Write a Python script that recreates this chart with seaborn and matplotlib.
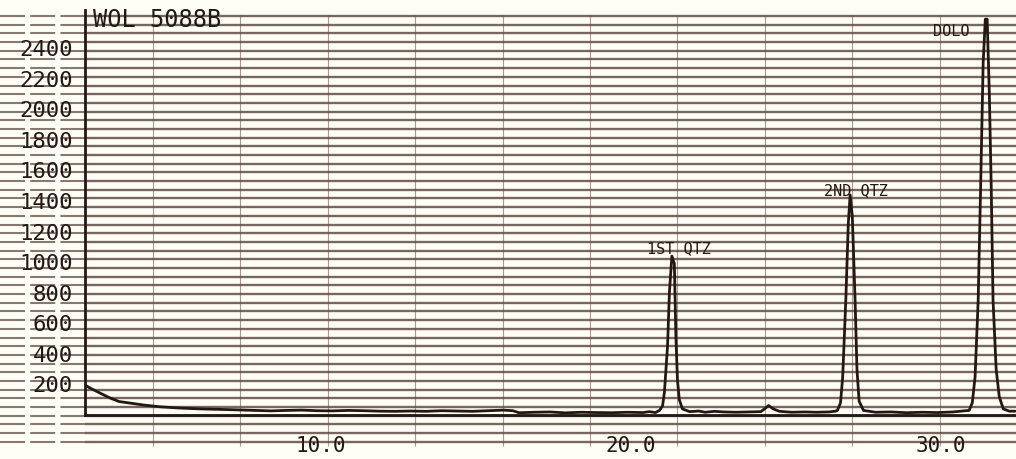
import numpy as np
import pandas as pd
import matplotlib
matplotlib.use("Agg")
import matplotlib.pyplot as plt
from matplotlib.transforms import ScaledTranslation
import seaborn as sns

# diffractogram trace (2-theta degrees, counts)
two_theta = [2.0, 2.15, 2.5, 2.8, 3.1, 3.45, 3.9, 4.4, 5.0, 5.7, 6.5, 7.0, 7.5, 8.0, 8.5,
             9.0, 9.5, 10.0, 10.5, 11.0, 11.5, 12.0, 12.5, 13.0, 13.5, 14.0, 14.5, 15.0,
             15.5, 15.8, 16.0, 16.5, 17.0, 17.5, 18.0, 18.5, 19.0, 19.5, 20.0, 20.2, 20.4,
             20.53, 20.63, 20.69, 20.79, 20.85, 20.93, 21.01, 21.06, 21.11, 21.17, 21.27,
             21.5, 21.8, 22.0, 22.3, 22.6, 23.0, 23.4, 23.8, 23.95, 24.05, 24.2, 24.4, 24.8,
             25.2, 25.6, 26.0, 26.2, 26.27, 26.37, 26.44, 26.54, 26.62, 26.68, 26.75, 26.84,
             26.9, 26.97, 27.11, 27.5, 28.0, 28.5, 29.0, 29.5, 30.0, 30.4, 30.52, 30.62,
             30.71, 30.81, 30.89, 30.97, 31.04, 31.1, 31.17, 31.23, 31.29, 31.39, 31.49,
             31.62, 31.81, 32.0]
counts = [196, 178, 142, 112, 88, 78, 65, 54, 46, 40, 36, 33, 30, 27, 30,
          32, 28, 27, 30, 28, 25, 24, 26, 24, 28, 26, 24, 28,
          32, 28, 15, 18, 20, 14, 18, 16, 15, 18, 16, 22, 16,
          30, 60, 150, 450, 800, 1040, 990, 510, 230, 100, 40,
          22, 26, 18, 24, 20, 18, 20, 22, 45, 62, 40, 24, 18,
          20, 18, 20, 25, 30, 80, 250, 750, 1250, 1440, 1300, 750,
          300, 90, 30, 18, 20, 15, 18, 16, 20, 28, 30, 80,
          250, 750, 1500, 2300, 2590, 2590, 2100, 1500, 750, 300, 120,
          40, 25, 25]

peak_names = ["1ST QTZ", "2ND QTZ", "DOLO"]
peak_x = [21.15, 26.87, 29.94]
peak_y = [1090, 1470, 2510]

sample_id = "WOL 5088B"
x_major = [5, 10, 15, 20, 25, 30]
x_labels = ["", "10.0", "", "20.0", "", "30.0"]
y_major = list(range(200, 2401, 200))

df = pd.DataFrame({"two_theta": two_theta, "counts": counts})

paper = "#fffef6"
ink = "#231814"
grid_ink = "#5e4c44"

sns.set_style("white")
plt.rcParams["font.family"] = ["DejaVu Sans Mono", "DejaVu Sans"]

fig = plt.figure(figsize=(10.16, 4.59), dpi=100, facecolor=paper)

# chart paper ruling, in pixel coordinates
bg = fig.add_axes([0, 0, 1, 1], zorder=0)
bg.set_xlim(0, 1016)
bg.set_ylim(459, 0)
bg.axis("off")
rows = 16 + 8.69 * np.arange(50)
bg.hlines(rows, 85, 1016, color=grid_ink, lw=1.7, alpha=0.85)
bg.hlines(rows, 0, 85, color=grid_ink, lw=1.5, alpha=0.75, linestyles=(0, (12, 2.5)))
bg.vlines(153 + 87.4 * np.arange(10), 15, 446, color=grid_ink, lw=0.8, alpha=0.55)

ax = fig.add_axes([85 / 1016, 44 / 459, 931 / 1016, 405 / 459], zorder=2)
ax.patch.set_alpha(0)
sns.lineplot(data=df, x="two_theta", y="counts", ax=ax, color=ink, lw=2.0,
             sort=False, estimator=None)
ax.set_xlim(2.0, 32.03)
ax.set_ylim(0, 2650)
ax.set_xlabel("")
ax.set_ylabel("")

for s in ["top", "right"]:
    ax.spines[s].set_visible(False)
for s in ["left", "bottom"]:
    ax.spines[s].set_color(ink)
    ax.spines[s].set_linewidth(2.0)

ax.set_xticks(x_major, labels=x_labels)
ax.set_xticks(np.arange(3, 33, 1), minor=True)
ax.set_yticks(y_major)
ax.set_yticks(np.arange(50, 2651, 50), minor=True)
ax.tick_params(axis="x", which="major", direction="out", length=10, width=1.6,
               color=ink, pad=5, labelsize=15, labelcolor=ink)
ax.tick_params(axis="x", which="minor", direction="out", length=5, width=1.4, color=ink)
ax.tick_params(axis="y", which="major", direction="out", length=8, width=1.6,
               color=ink, pad=1, labelsize=16, labelcolor=ink)
ax.tick_params(axis="y", which="minor", direction="out", length=4, width=1.3, color=ink)

shift = ScaledTranslation(-12 / 100, 0, fig.dpi_scale_trans)
for lab in ax.get_xticklabels():
    lab.set_transform(lab.get_transform() + shift)

for name, px, py in zip(peak_names, peak_x, peak_y):
    ax.text(px, py, name, ha="center", va="center", fontsize=11, color=ink)

ax.text(2.26, 2585, sample_id, ha="left", va="center", fontsize=17, color=ink)

fig.savefig("out.png", dpi=100, facecolor=paper)
